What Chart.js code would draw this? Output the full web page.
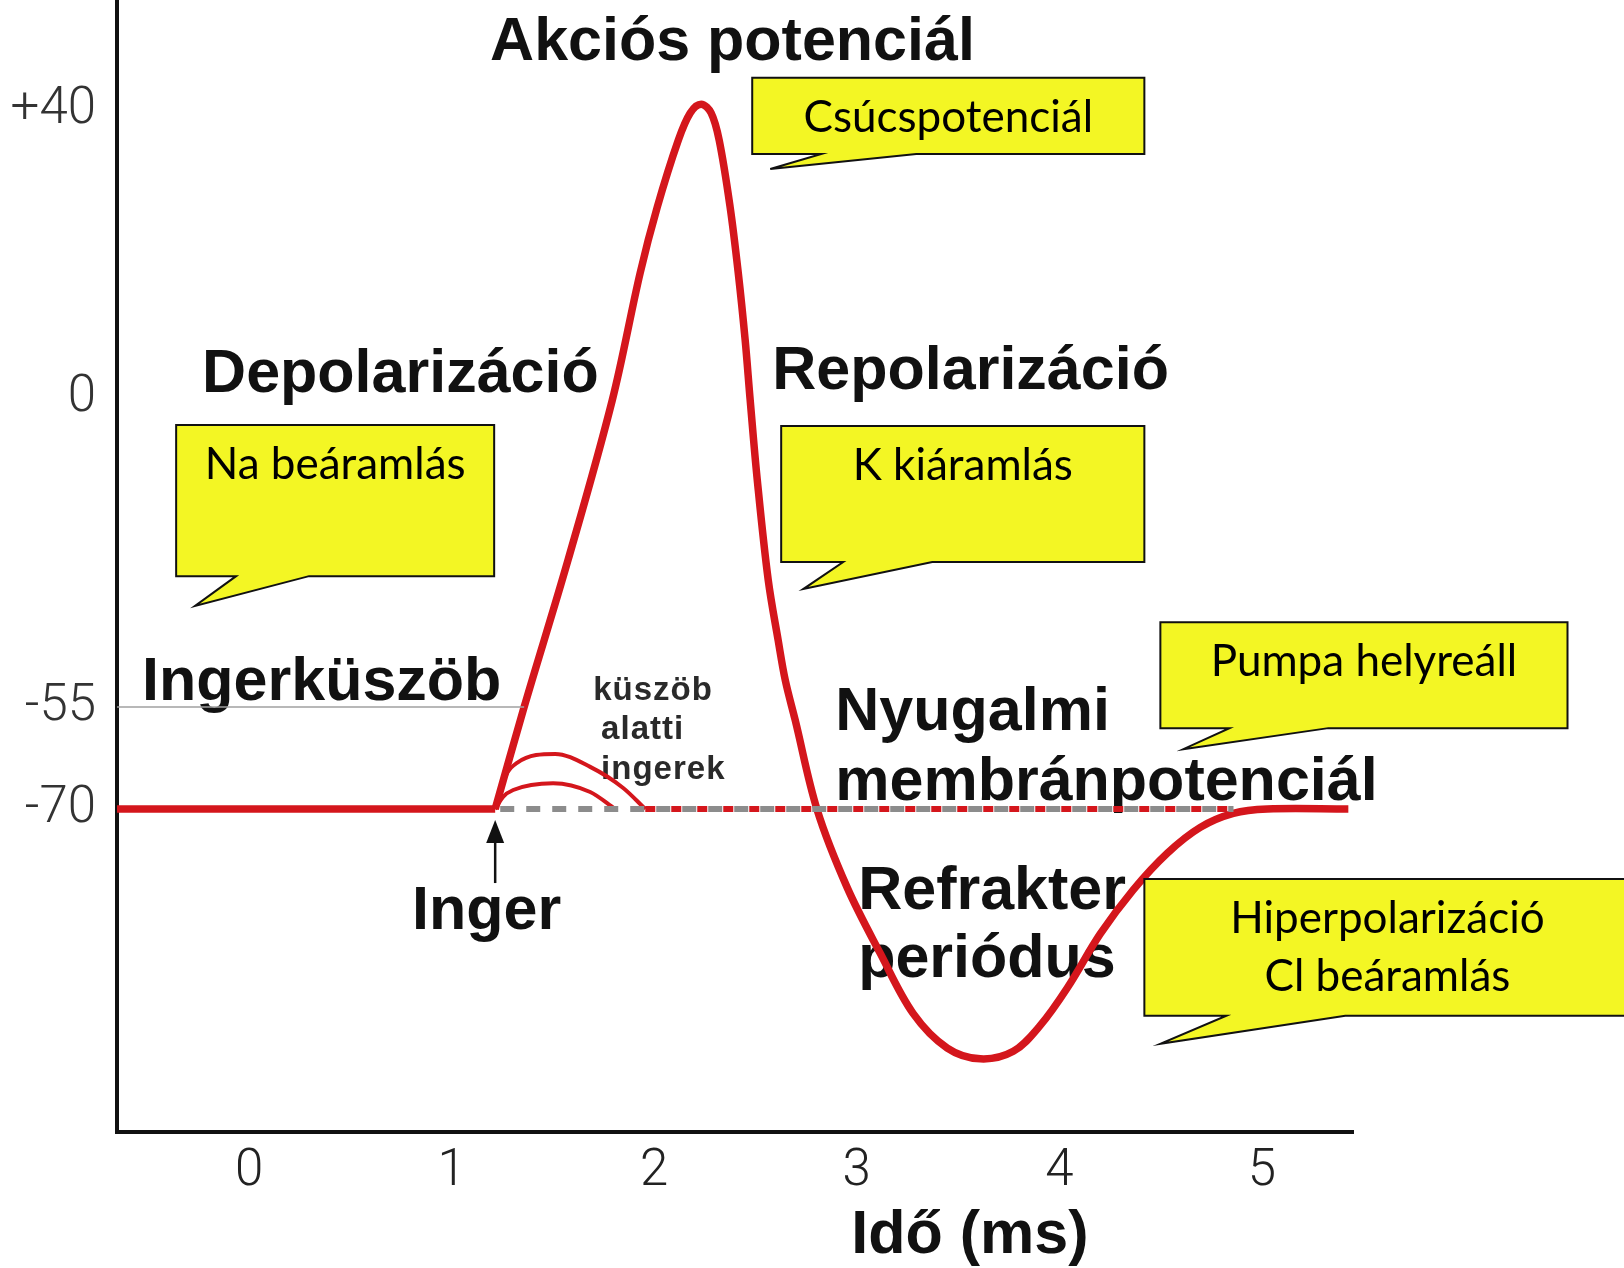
<!DOCTYPE html>
<html lang="hu">
<head>
<meta charset="utf-8">
<title>Akciós potenciál</title>
<script src="https://cdn.jsdelivr.net/npm/chart.js@4.4.1/dist/chart.umd.min.js"></script>
<style>
    html, body { margin: 0; padding: 0; background: #ffffff; }
    .chart-container { position: relative; width: 1624px; height: 1268px; }
</style>
</head>
<body>
<div class="chart-container">
    <canvas id="apChart"></canvas>
</div>
<script>
// Idő (ms) és membránpotenciál (mV) értékek
const xTicks = [0, 1, 2, 3, 4, 5];
const yTicks = [40, 0, -55, -70];
const yTickLabels = ["+40", "0", "-55", "-70"];

const restTime = [-0.652, 1.215];
const restVoltage = [-70, -70];

const thresholdTime = [-0.652, 1.358];
const thresholdVoltage = [-55, -55];

const apTime = [1.215, 1.358, 1.575, 1.793, 1.931, 2.015, 2.119, 2.178, 2.232, 2.281, 2.321, 2.375,
    2.415, 2.449, 2.474, 2.509, 2.563, 2.612, 2.647, 2.696, 2.805, 2.953, 3.116, 3.279, 3.447,
    3.610, 3.773, 3.906, 4.040, 4.202, 4.365, 4.533, 4.696, 4.859, 5.027, 5.427];
const apVoltage = [-70, -55, -28.8, -0.4, 17.4, 26.5, 35.8, 39.6, 40.8, 39.6, 35.8, 26.5,
    17.4, 8.1, -0.4, -14.6, -32.4, -43.1, -50.2, -56.9, -70.1, -77.3, -83.4, -89.0, -92.2,
    -93.2, -92.5, -90.1, -86.6, -81.6, -77.5, -74.1, -71.7, -70.4, -70, -70];

const subHighTime = [1.215, 1.264, 1.323, 1.511, 1.684, 1.847, 1.956];
const subHighVoltage = [-70, -65.3, -63.2, -61.9, -63.8, -66.9, -70];
const subLowTime = [1.215, 1.254, 1.304, 1.501, 1.684, 1.807];
const subLowVoltage = [-70, -68.2, -67.2, -66.2, -67.5, -70];

const dashTime = [1.24, 4.86];
const dotTime = [1.956, 4.86];
const stimulusTime = 1.215;

// feliratok: [szöveg, idő, feszültség (alapvonal)]
const bigLabels = [
    ["Akciós potenciál", 1.190, 46.8],
    ["Depolarizáció", -0.232, 0.9],
    ["Repolarizáció", 2.583, 1.25],
    ["Ingerküszöb", -0.528, -53.75],
    ["Nyugalmi", 2.894, -58.4],
    ["membránpotenciál", 2.894, -68.7],
    ["Inger", 0.805, -81.1],
    ["Refrakter", 3.007, -79.3],
    ["periódus", 3.007, -85.6]
];
const smallLabels = [
    ["küszöb", 1.699, -53.75],
    ["alatti", 1.738, -59.7],
    ["ingerek", 1.738, -65.6]
];

// szövegbuborékok: doboz [x1, y1, x2, y2], csúcs [x, y], talp [x1, x2]
const callouts = [
    {lines: ["Csúcspotenciál"], box: [2.484, 44.4, 4.420, 33.9], tip: [2.573, 31.8], base: [2.825, 3.294]},
    {lines: ["Na beáramlás"], box: [-0.360, -4.8, 1.210, -31.7], tip: [-0.267, -37.0], base: [-0.064, 0.296]},
    {lines: ["K kiáramlás"], box: [2.627, -5.0, 4.420, -29.2], tip: [2.736, -34.0], base: [2.933, 3.373]},
    {lines: ["Pumpa helyreáll"], box: [4.499, -39.9, 6.509, -58.1], tip: [4.612, -61.2], base: [4.840, 5.328]},
    {lines: ["Hiperpolarizáció", "Cl beáramlás"], box: [4.420, -76.5, 6.820, -89.2], tip: [4.499, -91.8], base: [4.825, 5.412]}
];

// a függőleges tengely nem lineáris (vázlatos ábra)
const yAnchorValues = [55, 40, 0, -55, -70, -100];
const yAnchorFractions = [0, 0.0972, 0.3516, 0.6246, 0.7147, 1];

const RED = "#d4161c";

function interp(v, xs, ys) {
    let i = 0;
    if (xs[0] > xs[xs.length - 1]) {
        while (i < xs.length - 2 && v < xs[i + 1]) i++;
    } else {
        while (i < xs.length - 2 && v > xs[i + 1]) i++;
    }
    const t = (v - xs[i]) / (xs[i + 1] - xs[i]);
    return ys[i] + t * (ys[i + 1] - ys[i]);
}

class WarpScale extends Chart.LinearScale {
    getPixelForValue(value) {
        if (value === null || isNaN(value)) return NaN;
        const f = interp(value, yAnchorValues, yAnchorFractions);
        return this.top + f * (this.bottom - this.top);
    }
    getValueForPixel(pixel) {
        const f = (pixel - this.top) / (this.bottom - this.top);
        return interp(f, yAnchorFractions, yAnchorValues);
    }
}
WarpScale.id = "warp";
WarpScale.defaults = Chart.LinearScale.defaults;
Chart.register(WarpScale);

function toPoints(xs, ys) {
    return xs.map((x, i) => ({x: x, y: ys[i]}));
}

const labelPlugin = {
    id: "labels",
    beforeDatasetsDraw(chart) {
        const ctx = chart.ctx;
        const sx = chart.scales.x, sy = chart.scales.y;
        ctx.save();
        ctx.textAlign = "left";
        ctx.textBaseline = "alphabetic";
        ctx.fillStyle = "#111";
        ctx.font = "bold 61px 'Liberation Sans', Arial, sans-serif";
        bigLabels.forEach(l => ctx.fillText(l[0], sx.getPixelForValue(l[1]), sy.getPixelForValue(l[2])));
        ctx.fillStyle = "#2a2a2a";
        ctx.font = "bold 33px 'Liberation Sans', Arial, sans-serif";
        ctx.letterSpacing = "1px";
        smallLabels.forEach(l => ctx.fillText(l[0], sx.getPixelForValue(l[1]), sy.getPixelForValue(l[2])));
        ctx.restore();
    },
    afterDatasetsDraw(chart) {
        const ctx = chart.ctx;
        const sx = chart.scales.x, sy = chart.scales.y;
        ctx.save();

        // inger nyíl
        const ax = sx.getPixelForValue(stimulusTime);
        const ay = sy.getPixelForValue(-70);
        ctx.strokeStyle = "#111";
        ctx.fillStyle = "#111";
        ctx.lineWidth = 2.5;
        ctx.beginPath();
        ctx.moveTo(ax, ay + 74);
        ctx.lineTo(ax, ay + 30);
        ctx.stroke();
        ctx.beginPath();
        ctx.moveTo(ax, ay + 11);
        ctx.lineTo(ax - 9, ay + 34);
        ctx.lineTo(ax + 9, ay + 34);
        ctx.closePath();
        ctx.fill();

        // szövegbuborékok
        callouts.forEach(c => {
            const x1 = sx.getPixelForValue(c.box[0]), x2 = sx.getPixelForValue(c.box[2]);
            const y1 = sy.getPixelForValue(c.box[1]), y2 = sy.getPixelForValue(c.box[3]);
            const tx = sx.getPixelForValue(c.tip[0]), ty = sy.getPixelForValue(c.tip[1]);
            const b1 = sx.getPixelForValue(c.base[0]), b2 = sx.getPixelForValue(c.base[1]);
            ctx.beginPath();
            ctx.moveTo(x1, y1);
            ctx.lineTo(x2, y1);
            ctx.lineTo(x2, y2);
            ctx.lineTo(b2, y2);
            ctx.lineTo(tx, ty);
            ctx.lineTo(b1, y2);
            ctx.lineTo(x1, y2);
            ctx.closePath();
            ctx.fillStyle = "#f3f624";
            ctx.fill();
            ctx.lineWidth = 2;
            ctx.strokeStyle = "#111";
            ctx.stroke();
            ctx.fillStyle = "#000";
            ctx.font = "44px Lato, 'Open Sans', sans-serif";
            ctx.textAlign = "center";
            ctx.textBaseline = "alphabetic";
            c.lines.forEach((t, i) => ctx.fillText(t, (x1 + x2) / 2, y1 + 54 + i * 58));
        });
        ctx.restore();
    },
    afterDraw(chart) {
        const ctx = chart.ctx;
        const sx = chart.scales.x;
        ctx.save();
        ctx.fillStyle = "#111";
        ctx.font = "bold 61px 'Liberation Sans', Arial, sans-serif";
        ctx.textAlign = "left";
        ctx.textBaseline = "alphabetic";
        ctx.fillText("Idő (ms)", sx.getPixelForValue(2.973), sx.bottom - 15);
        ctx.restore();
    }
};

document.addEventListener("DOMContentLoaded", function () {
    initApChart();
});

function initApChart() {
    const ctx = document.getElementById("apChart");
    const tickFont = {family: "Roboto, 'Liberation Sans', sans-serif", weight: "300", size: 51};

    new Chart(ctx, {
        type: "line",
        data: {
            datasets: [
                {data: toPoints(thresholdTime, thresholdVoltage), borderColor: "#a0a0a0", borderWidth: 1.5},
                {data: toPoints(dashTime, restVoltage), borderColor: "#8c8c8c", borderWidth: 6, borderDash: [14, 12]},
                {data: toPoints(dotTime, restVoltage), borderColor: RED, borderWidth: 6, borderDash: [10, 16]},
                {data: toPoints(subLowTime, subLowVoltage), borderColor: RED, borderWidth: 4, cubicInterpolationMode: "monotone"},
                {data: toPoints(subHighTime, subHighVoltage), borderColor: RED, borderWidth: 4, cubicInterpolationMode: "monotone"},
                {data: toPoints(restTime, restVoltage), borderColor: RED, borderWidth: 7.5},
                {data: toPoints(apTime, apVoltage), borderColor: RED, borderWidth: 7.5, tension: 0.35}
            ]
        },
        options: {
            responsive: true,
            maintainAspectRatio: false,
            animation: false,
            events: [],
            layout: {padding: {left: 0, right: 271, top: 0, bottom: 0}},
            elements: {point: {radius: 0}, line: {borderCapStyle: "butt", borderJoinStyle: "round", fill: false}},
            plugins: {legend: {display: false}, tooltip: {enabled: false}},
            scales: {
                x: {
                    type: "linear",
                    min: -0.652,
                    max: 5.45,
                    grid: {display: true, drawOnChartArea: false, drawTicks: false},
                    border: {display: true, color: "#111", width: 4},
                    afterBuildTicks: function (scale) {
                        scale.ticks = xTicks.map(v => ({value: v}));
                    },
                    afterFit: function (scale) {
                        scale.height = 136;
                        scale.paddingLeft = 0;
                        scale.paddingRight = 0;
                    },
                    ticks: {
                        autoSkip: false,
                        maxRotation: 0,
                        padding: 10,
                        color: "#222",
                        font: tickFont,
                        callback: function (value) {
                            return String(value);
                        }
                    }
                },
                y: {
                    type: "warp",
                    position: "left",
                    min: -100,
                    max: 55,
                    grid: {display: true, drawOnChartArea: false, drawTicks: false},
                    border: {display: true, color: "#111", width: 4},
                    afterBuildTicks: function (scale) {
                        scale.ticks = yTicks.map(v => ({value: v}));
                    },
                    afterFit: function (scale) {
                        scale.width = 117;
                        scale.paddingTop = 0;
                        scale.paddingBottom = 0;
                    },
                    ticks: {
                        autoSkip: false,
                        padding: 21,
                        color: "#333",
                        font: tickFont,
                        callback: function (value, index) {
                            return yTickLabels[index];
                        }
                    }
                }
            }
        },
        plugins: [labelPlugin]
    });
}
</script>
</body>
</html>
